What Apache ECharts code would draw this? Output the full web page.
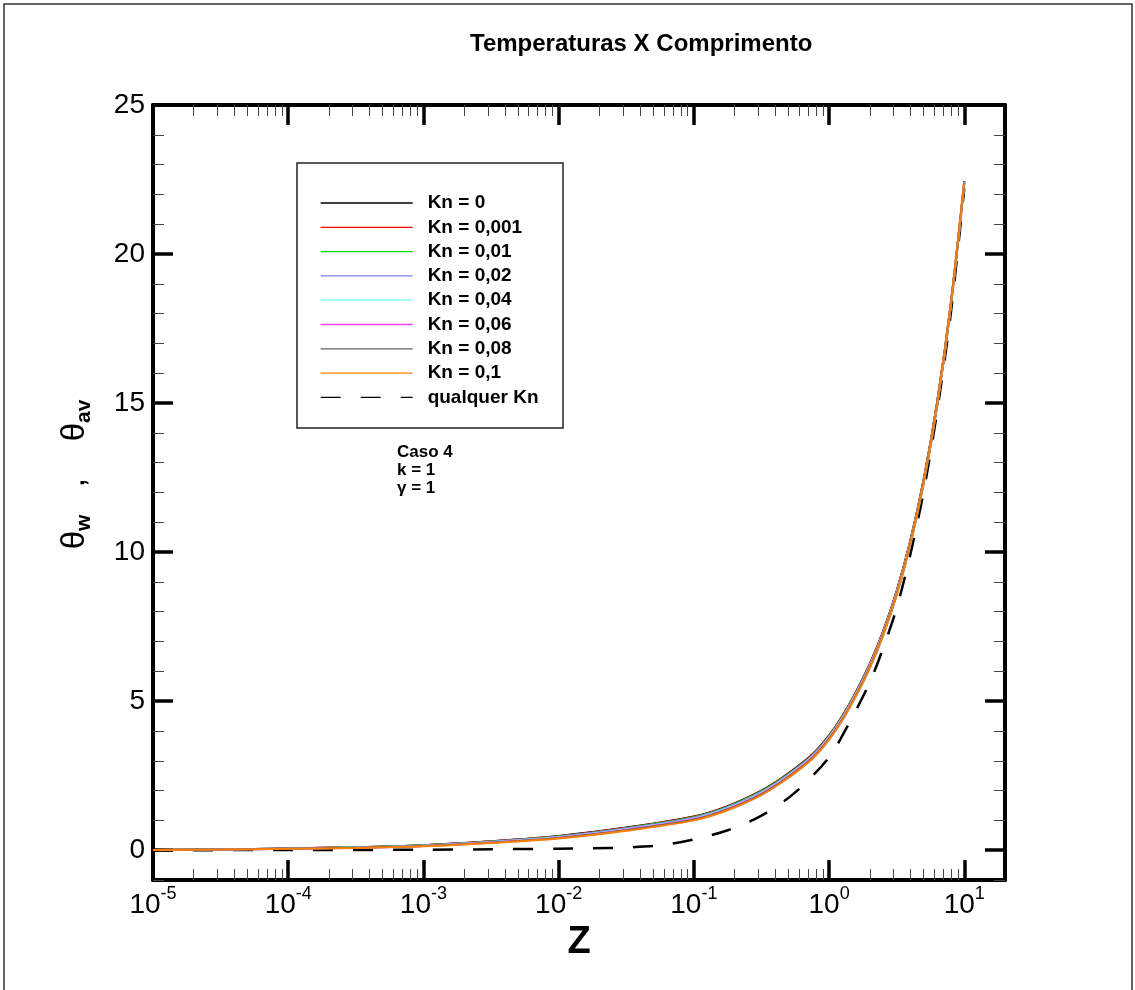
<!DOCTYPE html>
<html>
<head>
<meta charset="utf-8">
<script src="https://cdn.jsdelivr.net/npm/echarts@6/dist/echarts.min.js"></script>
<style>html,body{margin:0;padding:0;background:#fff}#c{width:1135px;height:990px}</style>
</head>
<body>
<div id="c"></div>
<script>
// ---------- data ----------
const zW = [1e-5, 3.162e-5, 1e-4, 3.162e-4, 1e-3, 3.162e-3, 0.01, 0.03162, 0.1, 0.1778, 0.3162, 0.4467, 0.631, 0.7943, 1, 1.259, 1.585, 1.995, 2.512, 3.162, 3.981, 5.012, 6.31, 7.943, 10];
const thetaKn0    = [0.01, 0.03, 0.06, 0.10, 0.17, 0.30, 0.48, 0.76, 1.13, 1.48, 2.00, 2.42, 2.92, 3.32, 3.85, 4.52, 5.32, 6.24, 7.35, 8.70, 10.37, 12.45, 15.06, 18.33, 22.45];
const thetaKn0001 = [0.01, 0.03, 0.06, 0.10, 0.17, 0.30, 0.47, 0.75, 1.12, 1.47, 1.99, 2.41, 2.91, 3.31, 3.84, 4.51, 5.31, 6.23, 7.34, 8.69, 10.36, 12.44, 15.05, 18.32, 22.44];
const thetaKn001  = [0.009, 0.028, 0.057, 0.095, 0.162, 0.288, 0.462, 0.738, 1.104, 1.452, 1.97, 2.39, 2.89, 3.29, 3.82, 4.49, 5.29, 6.21, 7.32, 8.67, 10.34, 12.42, 15.03, 18.306, 22.43];
const thetaKn002  = [0.008, 0.027, 0.055, 0.092, 0.157, 0.28, 0.45, 0.724, 1.087, 1.434, 1.95, 2.37, 2.87, 3.27, 3.80, 4.47, 5.27, 6.19, 7.30, 8.65, 10.32, 12.40, 15.01, 18.29, 22.417];
const thetaKn004  = [0.007, 0.025, 0.052, 0.087, 0.15, 0.27, 0.435, 0.705, 1.065, 1.41, 1.925, 2.345, 2.845, 3.245, 3.775, 4.445, 5.245, 6.165, 7.275, 8.625, 10.295, 12.375, 14.985, 18.27, 22.40];
const thetaKn006  = [0.007, 0.023, 0.05, 0.083, 0.144, 0.26, 0.42, 0.687, 1.044, 1.388, 1.90, 2.32, 2.82, 3.22, 3.75, 4.42, 5.22, 6.14, 7.25, 8.60, 10.27, 12.35, 14.96, 18.25, 22.384];
const thetaKn008  = [0.006, 0.022, 0.048, 0.079, 0.137, 0.25, 0.405, 0.669, 1.022, 1.364, 1.875, 2.295, 2.795, 3.195, 3.725, 4.395, 5.195, 6.115, 7.225, 8.575, 10.245, 12.325, 14.935, 18.23, 22.367];
const thetaKn01   = [0.005, 0.02, 0.045, 0.075, 0.13, 0.24, 0.39, 0.65, 1.00, 1.34, 1.85, 2.27, 2.77, 3.17, 3.70, 4.37, 5.17, 6.09, 7.20, 8.55, 10.22, 12.30, 14.91, 18.21, 22.35];

const zAv = [1e-5, 1e-4, 1e-3, 3.162e-3, 0.01, 0.01778, 0.03162, 0.05623, 0.1, 0.1778, 0.3162, 0.5623, 1, 1.413, 1.995, 2.512, 3.162, 3.981, 5.012, 6.31, 7.943, 10];
const thetaAv = [0.0, 0.005, 0.015, 0.03, 0.05, 0.065, 0.09, 0.16, 0.36, 0.67, 1.16, 1.94, 3.12, 4.28, 5.62, 6.78, 8.13, 9.90, 12.05, 14.75, 18.0, 22.2];

const seriesNames  = ['Kn = 0', 'Kn = 0,001', 'Kn = 0,01', 'Kn = 0,02', 'Kn = 0,04', 'Kn = 0,06', 'Kn = 0,08', 'Kn = 0,1'];
const seriesColors = ['#000000', '#ff0000', '#00d800', '#8080ff', '#70ffff', '#ff40ff', '#606060', '#ff8000'];
const seriesValues = [thetaKn0, thetaKn0001, thetaKn001, thetaKn002, thetaKn004, thetaKn006, thetaKn008, thetaKn01];
const avName = 'qualquer Kn';

const xMajorTicks = [1e-5, 1e-4, 1e-3, 1e-2, 1e-1, 1, 10];
const xMinorMult = [2, 3, 4, 5, 6, 7, 8, 9];
const yMajorTicks = [0, 5, 10, 15, 20, 25];
const yMinorTicks = [-1, 1, 2, 3, 4, 6, 7, 8, 9, 11, 12, 13, 14, 16, 17, 18, 19, 21, 22, 23, 24];

const titleText = 'Temperaturas X Comprimento';
const noteText = 'Caso 4\nk = 1\nγ = 1';

// ---------- build ----------
const FONT = '"Liberation Sans", Arial, Helvetica, sans-serif';
const xMinorTicks = [];
for (let k = -5; k <= 0; k++) {
  xMinorMult.forEach(m => xMinorTicks.push(Number((m * Math.pow(10, k)).toPrecision(6))));
}

function xAxisDef(pos, major) {
  return {
    type: 'log', logBase: 10, min: 1e-5, max: 20, position: pos, gridIndex: 0,
    axisLine: { show: major, onZero: false, lineStyle: { color: '#000', width: 4 } },
    axisTick: {
      show: true, inside: true, length: major ? 20 : 11,
      customValues: major ? xMajorTicks : xMinorTicks,
      lineStyle: { color: major ? '#000' : '#444', width: major ? 3.5 : 1 }
    },
    minorTick: { show: false },
    splitLine: { show: false },
    axisLabel: { show: false },
    silent: true
  };
}
function yAxisDef(pos, major) {
  return {
    type: 'value', min: -1, max: 25, position: pos, gridIndex: 0,
    axisLine: { show: major, onZero: false, lineStyle: { color: '#000', width: 4 } },
    axisTick: {
      show: true, inside: true, length: major ? 20 : 11,
      customValues: major ? yMajorTicks : yMinorTicks,
      lineStyle: { color: major ? '#000' : '#444', width: major ? 3.5 : 1 }
    },
    minorTick: { show: false },
    splitLine: { show: false },
    axisLabel: { show: false },
    silent: true
  };
}

const xAxes = [xAxisDef('bottom', true), xAxisDef('bottom', false), xAxisDef('top', true), xAxisDef('top', false)];
xAxes[0].axisLabel = {
  show: true, customValues: xMajorTicks, margin: 5,
  formatter: function (v) { return '{b|10}{s|' + Math.round(Math.log10(v)) + '}'; },
  rich: {
    b: { fontSize: 28, fontFamily: FONT, color: '#000', lineHeight: 34, verticalAlign: 'bottom' },
    s: { fontSize: 18, fontFamily: FONT, color: '#000', lineHeight: 18, verticalAlign: 'top' }
  }
};
xAxes[0].name = 'Z';
xAxes[0].nameLocation = 'middle';
xAxes[0].nameGap = 34;
xAxes[0].nameTextStyle = { fontSize: 38, fontWeight: 'bold', fontFamily: FONT, color: '#000' };

const yAxes = [yAxisDef('left', true), yAxisDef('left', false), yAxisDef('right', true), yAxisDef('right', false)];
yAxes[0].axisLabel = { show: true, customValues: yMajorTicks, margin: 8, fontSize: 28, fontFamily: FONT, color: '#000' };
yAxes[0].name = '{t|θ}{s|w}{t|   ,    θ}{s|av}';
yAxes[0].nameLocation = 'middle';
yAxes[0].nameRotate = 90;
yAxes[0].nameGap = 58;
yAxes[0].nameTextStyle = {
  padding: [0, 0, 0, 36],
  rich: {
    t: { fontSize: 33, fontFamily: FONT, color: '#000', lineHeight: 40, verticalAlign: 'middle' },
    s: { fontSize: 21, fontWeight: 'bold', fontFamily: FONT, color: '#000', lineHeight: 22, verticalAlign: 'bottom' }
  }
};

const series = [];
series.push({
  name: avName, type: 'line', xAxisIndex: 0, yAxisIndex: 0,
  data: zAv.map((z, i) => [z, thetaAv[i]]),
  symbol: 'none', smooth: 0.3,
  lineStyle: { color: '#000', width: 2.5, type: [20, 20] },
  itemStyle: { color: '#000' }, z: 2
});
seriesNames.forEach((n, k) => {
  series.push({
    name: n, type: 'line', xAxisIndex: 0, yAxisIndex: 0,
    data: zW.map((z, i) => [z, seriesValues[k][i]]),
    symbol: 'none', smooth: 0.3,
    lineStyle: { color: seriesColors[k], width: 2 },
    itemStyle: { color: seriesColors[k] }, z: 3
  });
});

const option = {
  animation: false,
  backgroundColor: '#fff',
  title: {
    text: titleText, left: 470, top: 32, padding: 0,
    textStyle: { fontSize: 24, fontWeight: 'bold', fontFamily: FONT, color: '#000' }
  },
  grid: { left: 153, right: 130, top: 105, bottom: 110, containLabel: false },
  xAxis: xAxes,
  yAxis: yAxes,
  legend: {
    orient: 'vertical', left: 320, top: 193, padding: 0,
    itemWidth: 92, itemHeight: 2, itemGap: 4.3,
    data: seriesNames.concat([avName]),
    selectedMode: false,
    itemStyle: { opacity: 0 },
    lineStyle: { width: 1.3 },
    textStyle: { fontSize: 19, fontWeight: 'bold', fontFamily: FONT, color: '#000', lineHeight: 20, padding: [0, 0, 0, 10] }
  },
  graphic: [
    { type: 'rect', shape: { x: 4, y: 4, width: 1128, height: 1000 }, style: { fill: 'none', stroke: '#333', lineWidth: 1.5 }, silent: true, z: 0 },
    { type: 'rect', shape: { x: 297, y: 163, width: 266, height: 265 }, style: { fill: 'none', stroke: '#222', lineWidth: 1.5 }, silent: true },
    { type: 'text', left: 397, top: 443, style: { text: noteText, font: 'bold 17px ' + FONT, fill: '#000', lineHeight: 18 }, silent: true }
  ],
  series: series
};

const chart = echarts.init(document.getElementById('c'), null, { renderer: 'canvas' });
chart.setOption(option);
</script>
</body>
</html>
